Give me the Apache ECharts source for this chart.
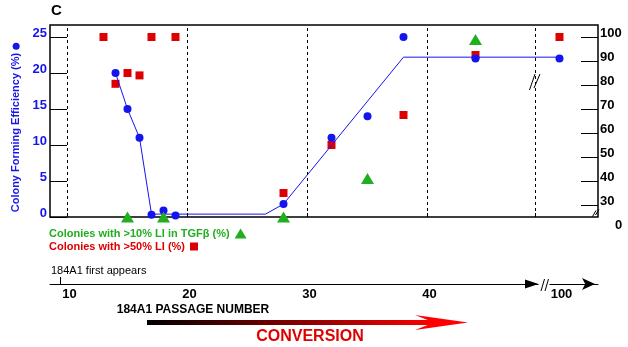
<!DOCTYPE html>
<html><head><meta charset="utf-8">
<script src="https://cdn.jsdelivr.net/npm/echarts@6/dist/echarts.min.js"></script>
<style>html,body{margin:0;padding:0;background:#fff}#c{width:628px;height:347px}</style>
</head><body><div id="c"></div>
<script>
// ---------------- data ----------------
const cfePassages   = [14, 15, 16, 17, 18, 19, 28, 32, 35, 38, 44, 100];
const cfeValues     = [20, 15, 11, 0.3, 0.9, 0.2, 1.8, 11, 14, 25, 22, 22];
const trendPassages = [14, 15, 16, 17, 26.5, 28, 38, 100];
const trendValues   = [20, 15, 11, 0.4, 0.4, 1.8, 22.2, 22.2];
const li50Passages  = [13, 14, 15, 16, 17, 19, 28, 32, 38, 44, 100];
const li50Values    = [100, 80.5, 85, 84, 100, 100, 35, 55, 67.5, 92.5, 100];
const tgfPassages   = [15, 18, 28, 35, 44];
const tgfValues     = [0, 0, 0, 41, 99];
const leftTicks     = [0, 5, 10, 15, 20, 25];
const rightTicks    = [30, 40, 50, 60, 70, 80, 90, 100];
const passageTicks  = [10, 20, 30, 40, 100];
const guidePassages = [10, 20, 30, 40, 49];
const firstAppearsPassage = 9.4;

const tgfName  = 'Colonies with >10% LI in TGF\u03B2 (%)';
const li50Name = 'Colonies with >50% LI (%)';
const cfeName  = 'Colony Forming Efficiency (%)';

// ---------------- broken axes ----------------
// x axis is broken after passage 49; passage 100 is drawn 2 units after the break
const FAR_PASSAGE = 100, FAR_SHOWN_AT = 51;
const xAt = p => (p >= FAR_PASSAGE ? FAR_SHOWN_AT + (p - FAR_PASSAGE) : p);
// right axis is broken between 0 and 30; its 0 sits at the axis base
const RIGHT_BASE = 25;
const rAt = v => (v === 0 ? RIGHT_BASE : v);

const X_MIN = 10 - 17.5 / 12, X_MAX = 10 + 530.5 / 12;
const BLUE = '#1414ee', RED = '#dd0000', GREEN = '#1faf1f';
const FF = "'Liberation Sans', Arial, sans-serif";

const pair = (xs, ys, fx, fy) => xs.map((x, i) => [fx(x), fy(ys[i])]);
const id = v => v;

const chart = echarts.init(document.getElementById('c'), null, {renderer: 'canvas'});
chart.setOption({
  animation: false,
  backgroundColor: '#fff',
  title: {text: 'C', left: 51, top: 3, padding: 0,
    textStyle: {fontFamily: FF, fontSize: 15, fontWeight: 'bold', color: '#000'}},
  grid: {left: 50, right: 30, top: 25, bottom: 130, show: true,
    borderColor: '#000', borderWidth: 1.5, backgroundColor: 'transparent'},
  legend: [
    {data: [{name: tgfName}], left: 49, top: 228, padding: 0, align: 'right',
      itemWidth: 12, itemHeight: 10, selectedMode: false,
      textStyle: {fontFamily: FF, fontSize: 11, fontWeight: 'bold', color: GREEN}},
    {data: [{name: li50Name}], left: 49, top: 241, padding: 0, align: 'right',
      itemWidth: 8, itemHeight: 8, selectedMode: false,
      textStyle: {fontFamily: FF, fontSize: 11, fontWeight: 'bold', color: RED}}
  ],
  xAxis: [
    {type: 'value', min: X_MIN, max: X_MAX, position: 'bottom',
      axisLine: {show: false}, splitLine: {show: false},
      axisTick: {show: true, inside: true, length: 4, customValues: guidePassages,
        lineStyle: {color: '#000'}},
      axisLabel: {show: false}},
    {type: 'value', min: X_MIN, max: X_MAX, position: 'bottom', offset: 67,
      axisLine: {show: true, symbol: ['none', 'arrow'], symbolSize: [9, 13], symbolOffset: [0, -3],
        lineStyle: {color: '#000', width: 1}},
      splitLine: {show: false},
      axisTick: {show: true, inside: true, length: 7, customValues: [firstAppearsPassage],
        lineStyle: {color: '#000'}},
      axisLabel: {show: true, customValues: passageTicks.map(xAt), margin: 4,
        padding: [0, 0, 0, 4],
        formatter: v => String(passageTicks.find(p => Math.abs(xAt(p) - v) < 1e-6) ?? v),
        fontFamily: FF, fontSize: 13, fontWeight: 'bold', color: '#000'}}
  ],
  yAxis: [
    {type: 'value', min: 0, max: 192 / 7.2, position: 'left',
      name: cfeName + ' {d|}', nameLocation: 'middle', nameRotate: 90, nameGap: 25,
      nameTextStyle: {fontFamily: FF, fontSize: 11, fontWeight: 'bold', color: BLUE,
        padding: [0, 13, 0, 0],
        rich: {d: {width: 7, height: 7, borderRadius: 3.5, backgroundColor: BLUE}}},
      axisLine: {show: false}, splitLine: {show: false},
      axisTick: {show: true, inside: true, length: 17, customValues: leftTicks,
        lineStyle: {color: '#000'}},
      axisLabel: {customValues: leftTicks, margin: 3, verticalAlign: 'bottom', lineHeight: 8,
        fontFamily: FF, fontSize: 13, fontWeight: 'bold', color: BLUE}},
    {type: 'value', min: RIGHT_BASE, max: RIGHT_BASE + 192 / 2.4, position: 'right',
      name: '0', nameLocation: 'start', nameGap: 2,
      nameTextStyle: {fontFamily: FF, fontSize: 13, fontWeight: 'bold', color: '#000',
        align: 'left', verticalAlign: 'top', padding: [0, 0, 0, 17]},
      axisLine: {show: false}, splitLine: {show: false},
      axisTick: {show: true, inside: true, length: 17, customValues: rightTicks,
        lineStyle: {color: '#000'}},
      axisLabel: {customValues: rightTicks, margin: 2, verticalAlign: 'bottom', lineHeight: 8,
        fontFamily: FF, fontSize: 13, fontWeight: 'bold', color: '#000'}}
  ],
  series: [
    {type: 'scatter', name: li50Name, xAxisIndex: 0, yAxisIndex: 1, z: 2,
      symbol: 'rect', symbolSize: 8, itemStyle: {color: RED, opacity: 1},
      data: pair(li50Passages, li50Values, xAt, rAt)},
    {type: 'line', name: 'trend', xAxisIndex: 0, yAxisIndex: 0, z: 3,
      showSymbol: false, symbol: 'none', lineStyle: {color: BLUE, width: 1},
      data: pair(trendPassages, trendValues, xAt, id),
      markLine: {silent: true, symbol: ['none', 'none'], label: {show: false},
        lineStyle: {color: '#000', width: 1, type: [3, 3]},
        data: guidePassages.map(p => ({xAxis: p}))}},
    {type: 'scatter', name: cfeName, xAxisIndex: 0, yAxisIndex: 0, z: 4,
      symbol: 'circle', symbolSize: 8, itemStyle: {color: BLUE, opacity: 1},
      data: pair(cfePassages, cfeValues, xAt, id)},
    {type: 'scatter', name: tgfName, xAxisIndex: 0, yAxisIndex: 1, z: 5,
      symbol: 'triangle', symbolSize: [13, 11], itemStyle: {color: GREEN, opacity: 1},
      data: pair(tgfPassages, tgfValues, xAt, rAt)}
  ],
  graphic: [
    {type: 'text', x: 51, y: 271, style: {text: '184A1 first appears', font: '11px ' + FF,
      fill: '#000', verticalAlign: 'middle'}},
    {type: 'text', x: 193, y: 310, style: {text: '184A1 PASSAGE NUMBER', font: 'bold 12px ' + FF,
      fill: '#000', align: 'center', verticalAlign: 'middle'}},
    {type: 'rect', shape: {x: 147, y: 320, width: 290, height: 5},
      style: {fill: new echarts.graphic.LinearGradient(0, 0, 1, 0,
        [{offset: 0, color: '#000'}, {offset: 1, color: '#ff0000'}])}},
    {type: 'polygon', shape: {points: [[415, 315], [468, 322.5], [415, 330], [434, 322.5]]},
      style: {fill: '#ff0000'}},
    {type: 'text', x: 310, y: 337, style: {text: 'CONVERSION', font: 'bold 16px ' + FF,
      fill: '#e00000', align: 'center', verticalAlign: 'middle'}},
    // axis break marks
    {type: 'line', shape: {x1: 529.5, y1: 90, x2: 535, y2: 74}, style: {stroke: '#000', lineWidth: 1}},
    {type: 'line', shape: {x1: 534, y1: 88, x2: 540, y2: 74}, style: {stroke: '#000', lineWidth: 1}},
    {type: 'line', shape: {x1: 592.5, y1: 216.5, x2: 596, y2: 210.5}, style: {stroke: '#000', lineWidth: 1}},
    {type: 'line', shape: {x1: 595.5, y1: 215, x2: 599, y2: 209.5}, style: {stroke: '#000', lineWidth: 1}},
    {type: 'rect', shape: {x: 538.5, y: 280, width: 11, height: 8}, style: {fill: '#fff'}, z: 100},
    {type: 'polygon', shape: {points: [[525, 279.5], [538.5, 284], [525, 288.5]]}, style: {fill: '#000'}, z: 101},
    {type: 'line', shape: {x1: 541, y1: 291, x2: 544.5, y2: 279}, style: {stroke: '#000', lineWidth: 1}, z: 101},
    {type: 'line', shape: {x1: 545, y1: 291, x2: 548.5, y2: 279}, style: {stroke: '#000', lineWidth: 1}, z: 101}
  ]
});
</script></body></html>
